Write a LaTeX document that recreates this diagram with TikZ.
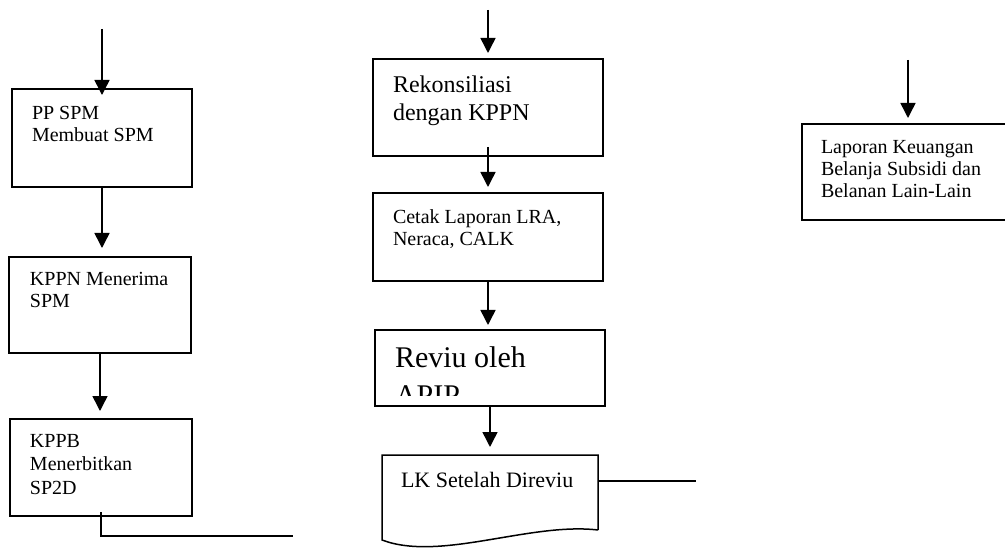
\documentclass[tikz,border=0pt]{standalone}
\usepackage{fontspec}
\setmainfont{Liberation Serif}
\usetikzlibrary{arrows.meta}
\newcommand{\boxtext}[3]{\parbox[t]{220pt}{\fontsize{#1}{#2}\selectfont #3}}
\begin{document}
\begin{tikzpicture}[x=1pt,y=-1pt,
  box/.style={draw, line width=1.5pt, rectangle, inner sep=0pt, outer sep=0pt, anchor=north west},
  arr/.style={line width=1.5pt, -{Triangle[length=15pt,width=15pt]}},
  wire/.style={line width=1.5pt},
  txt/.style={anchor=base west, inner sep=0pt, outer sep=0pt}]
\useasboundingbox (0,0) rectangle (1005,548);

% ---- left column: SPM / SP2D process ----
\node[box, minimum width=180pt, minimum height=98pt] (b1) at (12,89) {};
\node[box, minimum width=182pt, minimum height=96pt] (b2) at (9,257) {};
\node[box, minimum width=182pt, minimum height=97pt] (b3) at (10,419) {};
\node[txt] (b1t) at (32,120) {\boxtext{20}{22}{PP SPM\\Membuat SPM}};
\node[txt] (b2t) at (30,286) {\boxtext{20}{22}{KPPN Menerima\\SPM}};
\node[txt] (b3t) at (30,447) {\boxtext{20}{23.5}{KPPB\\Menerbitkan\\SP2D}};

\coordinate (s1) at (102,29);
\draw[arr] (s1) -- ([yshift=-6pt]b1.north);
\draw[arr] (b1.south) -- ([yshift=9pt]b1.south |- b2.north);
\draw[arr] (b2.south) -- ([yshift=8pt]b2.south |- b3.north);
\coordinate (e1) at (293,536);
\draw[wire] ([yshift=4pt]b3.south) |- (e1);

% ---- middle column: reconciliation and review ----
\node[box, minimum width=230pt, minimum height=97pt] (R) at (373,59) {};
\node[box, minimum width=230pt, minimum height=88pt] (C) at (373,193) {};
\node[box, minimum width=230pt, minimum height=76pt] (Rev) at (375,330) {};
\node[txt] (Rt) at (393,93) {\boxtext{24}{28}{Rekonsiliasi\\dengan KPPN}};
\node[txt] (Ct) at (393,224) {\boxtext{20}{22}{Cetak Laporan LRA,\\Neraca, CALK}};
\begin{scope}
  \clip (375,330) rectangle (605,395);
  \node[txt] (Revt) at (395,367) {\boxtext{30}{38}{Reviu oleh\\APIP}};
\end{scope}

% document shape
\node[rectangle, inner sep=0pt, outer sep=0pt, anchor=north west,
      minimum width=216pt, minimum height=75pt] (doc) at (382,455) {};
\coordinate (dl) at ([yshift=-10pt]doc.south west);
\draw[line width=1.5pt] (doc.south east) -- (doc.north east) -- (doc.north west) -- (dl)
  .. controls (440,562) and (530,522) .. (doc.south east);
\node[txt] (doct) at (401,487) {\fontsize{22}{24}\selectfont LK Setelah Direviu};

\coordinate (s2) at (488,10);
\draw[arr] (s2) -- ([yshift=6pt]s2 |- R.north);
\draw[arr] ([yshift=9pt]R.south) -- ([yshift=6pt]R.south |- C.north);
\draw[arr] (C.south) -- ([yshift=5pt]C.south |- Rev.north);
\draw[arr] (Rev.south) -- ([yshift=8pt]Rev.south |- doc.north);
\coordinate (e2) at (696,481);
\draw[wire] ([yshift=11.5pt]doc.east) -- (e2);

% ---- right column: final report ----
\node[box, minimum width=205pt, minimum height=96pt] (K) at (802,124) {};
\node[txt] (Kt) at (821,154) {\boxtext{20}{22}{Laporan Keuangan\\Belanja Subsidi dan\\Belanan Lain-Lain}};
\coordinate (s3) at (908,60);
\draw[arr] (s3) -- ([yshift=6pt]s3 |- K.north);
\end{tikzpicture}
\end{document}
